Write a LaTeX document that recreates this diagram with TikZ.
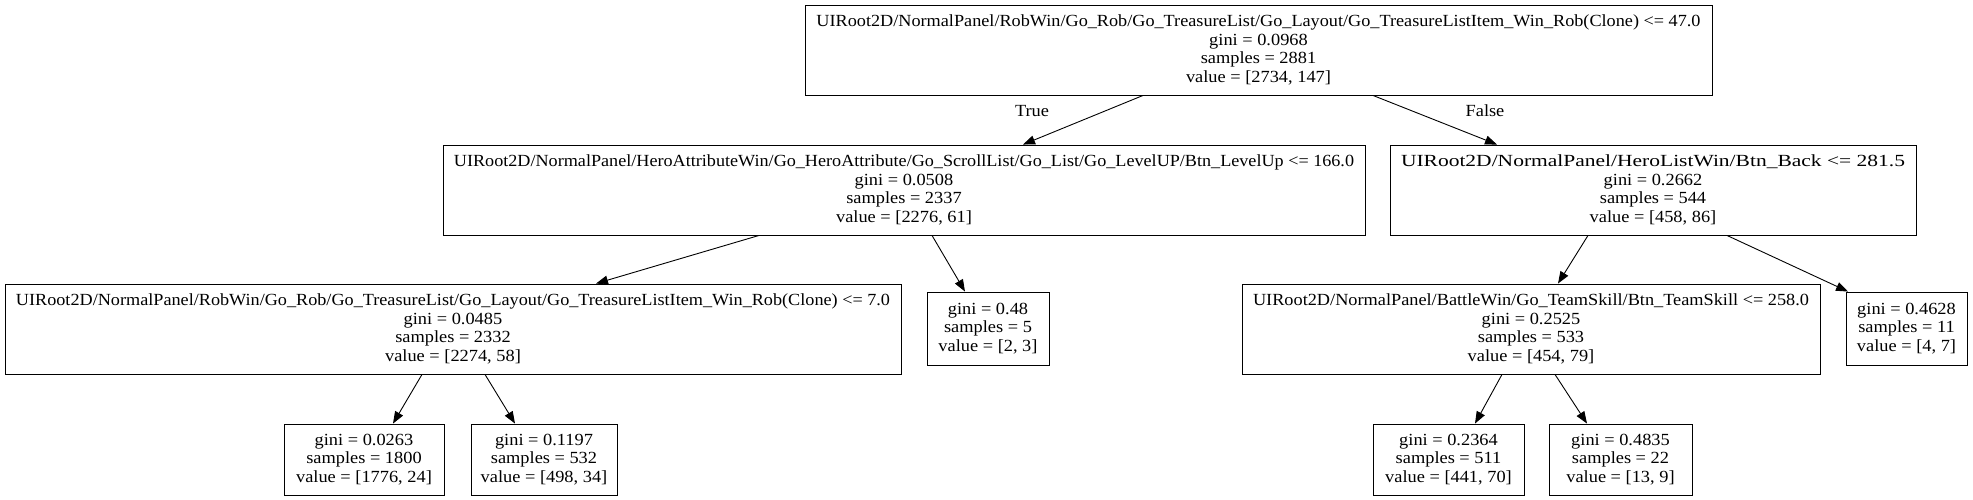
\documentclass[tikz,border=0pt]{standalone}
\usepackage{fontspec}
\setmainfont[FakeStretch=1.08]{Liberation Serif}
\usetikzlibrary{arrows.meta}
\newcommand{\widerow}[2]{\resizebox{#1}{\height}{#2}}
\tikzset{
  treebox/.style={draw, line width=0.9pt, rectangle, inner sep=0pt, align=center,
    font=\fontsize{17}{18.4}\selectfont},
  arr/.style={line width=0.9pt, -{Triangle[length=12pt,width=9pt]}},
  edgelbl/.style={font=\fontsize{17}{18.4}\selectfont, inner sep=0pt}
}
\begin{document}
\begin{tikzpicture}[x=1pt,y=-1pt]
\useasboundingbox (0,0) rectangle (1973,499);
\node[treebox, minimum width=907pt, minimum height=90pt] (root) at (1258.5,50)
 {\widerow{884pt}{UIRoot2D/NormalPanel/RobWin/Go\_Rob/Go\_TreasureList/Go\_Layout/Go\_TreasureListItem\_Win\_Rob(Clone) <= 47.0}\\gini = 0.0968\\samples = 2881\\value = [2734, 147]};
\node[treebox, minimum width=922pt, minimum height=90pt] (n1) at (904,190)
 {\widerow{900pt}{UIRoot2D/NormalPanel/HeroAttributeWin/Go\_HeroAttribute/Go\_ScrollList/Go\_List/Go\_LevelUP/Btn\_LevelUp <= 166.0}\\gini = 0.0508\\samples = 2337\\value = [2276, 61]};
\node[treebox, minimum width=526pt, minimum height=90pt] (n2) at (1653,190)
 {\widerow{504pt}{UIRoot2D/NormalPanel/HeroListWin/Btn\_Back <= 281.5}\\gini = 0.2662\\samples = 544\\value = [458, 86]};
\node[treebox, minimum width=896pt, minimum height=90pt] (n3) at (453,329)
 {\widerow{874pt}{UIRoot2D/NormalPanel/RobWin/Go\_Rob/Go\_TreasureList/Go\_Layout/Go\_TreasureListItem\_Win\_Rob(Clone) <= 7.0}\\gini = 0.0485\\samples = 2332\\value = [2274, 58]};
\node[treebox, minimum width=122pt, minimum height=73pt] (n4) at (988,328.5)
 {gini = 0.48\\samples = 5\\value = [2, 3]};
\node[treebox, minimum width=578pt, minimum height=90pt] (n5) at (1531,329)
 {\widerow{556pt}{UIRoot2D/NormalPanel/BattleWin/Go\_TeamSkill/Btn\_TeamSkill <= 258.0}\\gini = 0.2525\\samples = 533\\value = [454, 79]};
\node[treebox, minimum width=121pt, minimum height=73pt] (n6) at (1906.5,328.5)
 {gini = 0.4628\\samples = 11\\value = [4, 7]};
\node[treebox, minimum width=160pt, minimum height=71pt] (n7) at (364,459.5)
 {gini = 0.0263\\samples = 1800\\value = [1776, 24]};
\node[treebox, minimum width=146pt, minimum height=71pt] (n8) at (544,459.5)
 {gini = 0.1197\\samples = 532\\value = [498, 34]};
\node[treebox, minimum width=151pt, minimum height=71pt] (n9) at (1448.5,459.5)
 {gini = 0.2364\\samples = 511\\value = [441, 70]};
\node[treebox, minimum width=143pt, minimum height=71pt] (n10) at (1620.5,459.5)
 {gini = 0.4835\\samples = 22\\value = [13, 9]};
\draw[arr] (root.south -| 1143,0) -- (n1.north -| 1023,0);
\draw[arr] (root.south -| 1373,0) -- (n2.north -| 1497,0);
\draw[arr] (n1.south -| 759,0) -- (n3.north -| 596,0);
\draw[arr] (n1.south -| 932,0) -- (n4.north -| 965,0);
\draw[arr] (n2.south -| 1588,0) -- (n5.north -| 1558,0);
\draw[arr] (n2.south -| 1727,0) -- (n6.north -| 1848,0);
\draw[arr] (n3.south -| 422,0) -- (n7.north -| 393,0);
\draw[arr] (n3.south -| 485,0) -- (n8.north -| 515,0);
\draw[arr] (n5.south -| 1502,0) -- (n9.north -| 1475,0);
\draw[arr] (n5.south -| 1555,0) -- (n10.north -| 1587,0);
\node[edgelbl] (ltrue) at (1032,111) {True};
\node[edgelbl] (lfalse) at (1485,111) {False};
\end{tikzpicture}
\end{document}
